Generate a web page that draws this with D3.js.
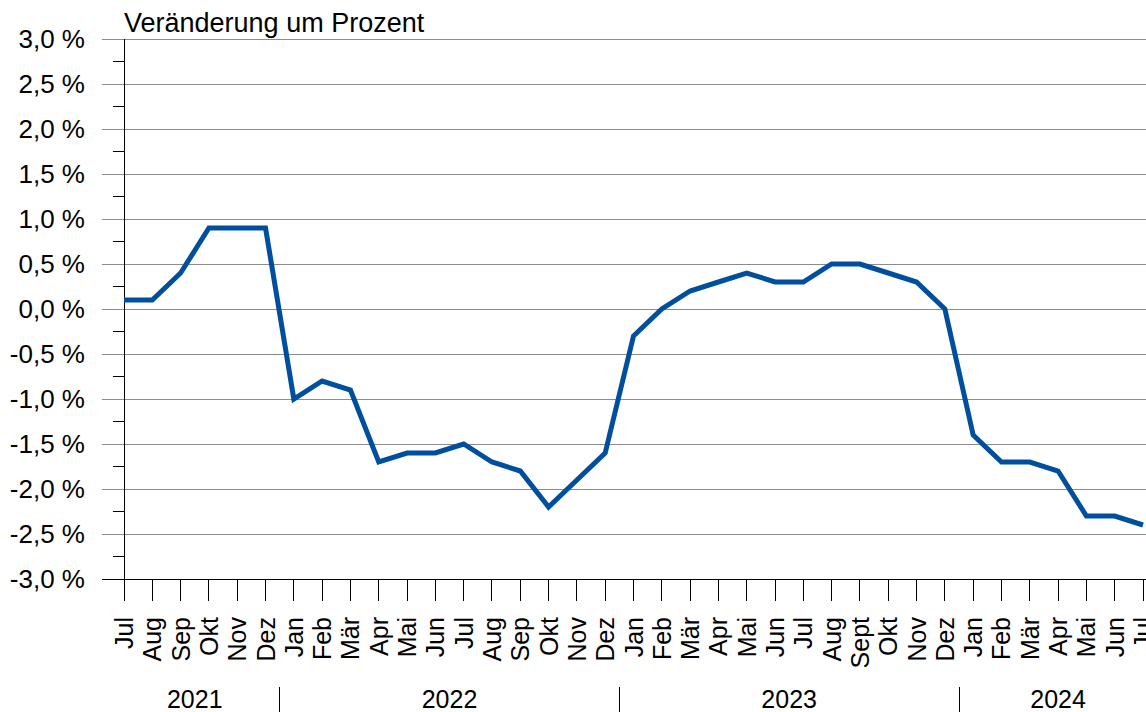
<!DOCTYPE html>
<html>
<head>
<meta charset="utf-8">
<script src="https://cdn.jsdelivr.net/npm/d3@7"></script>
<style>
  body { margin: 0; background: #fff; }
  svg { display: block; font-family: "Liberation Sans", Arial, sans-serif; }
</style>
</head>
<body>
<div id="chart"></div>
<script>
// months Jul 2021 .. Jul 2024
const months = ["Jul","Aug","Sep","Okt","Nov","Dez",
  "Jan","Feb","Mär","Apr","Mai","Jun","Jul","Aug","Sep","Okt","Nov","Dez",
  "Jan","Feb","Mär","Apr","Mai","Jun","Jul","Aug","Sept","Okt","Nov","Dez",
  "Jan","Feb","Mär","Apr","Mai","Jun","Jul"];
const values = [0.1, 0.1, 0.4, 0.9, 0.9, 0.9,
  -1.0, -0.8, -0.9, -1.7, -1.6, -1.6, -1.5, -1.7, -1.8, -2.2, -1.9, -1.6,
  -0.3, 0.0, 0.2, 0.3, 0.4, 0.3, 0.3, 0.5, 0.5, 0.4, 0.3, 0.0,
  -1.4, -1.7, -1.7, -1.8, -2.3, -2.3, -2.4];
const years = ["2021", "2022", "2023", "2024"];
const yearStart = [0, 6, 18, 30];
const yearEnd = [5, 17, 29, 36];
const yTicks = [3, 2.5, 2, 1.5, 1, 0.5, 0, -0.5, -1, -1.5, -2, -2.5, -3];

const width = 1146, height = 712;
const margin = { top: 39, right: 3, bottom: 133, left: 124 };
const innerW = width - margin.left - margin.right;
const innerH = height - margin.top - margin.bottom;

const svg = d3.select("#chart").append("svg")
  .attr("width", width)
  .attr("height", height);

const x = d3.scaleLinear()
  .domain([0, months.length - 1])
  .range([margin.left, margin.left + innerW]);

const y = d3.scaleLinear()
  .domain([-3, 3])
  .range([margin.top + innerH, margin.top]);

const fmt = v => d3.format(".1f")(v).replace(".", ",").replace("−", "-") + " %";

// grid lines (extend left as major ticks)
svg.append("g")
  .selectAll("line")
  .data(yTicks)
  .join("line")
  .attr("x1", margin.left - 22)
  .attr("x2", width)
  .attr("y1", d => y(d))
  .attr("y2", d => y(d))
  .attr("stroke", d => d === -3 ? "#000" : "#8c8c8c")
  .attr("stroke-width", 1)
  .attr("shape-rendering", "crispEdges");

// minor ticks
const minor = d3.range(-2.75, 3, 0.5);
svg.append("g")
  .selectAll("line")
  .data(minor)
  .join("line")
  .attr("x1", margin.left - 11)
  .attr("x2", margin.left)
  .attr("y1", d => y(d))
  .attr("y2", d => y(d))
  .attr("stroke", "#000")
  .attr("shape-rendering", "crispEdges");

// y axis line
svg.append("line")
  .attr("x1", margin.left).attr("x2", margin.left)
  .attr("y1", y(3)).attr("y2", y(-3))
  .attr("stroke", "#000")
  .attr("shape-rendering", "crispEdges");

// y labels
svg.append("g")
  .selectAll("text")
  .data(yTicks)
  .join("text")
  .attr("x", 85)
  .attr("y", d => y(d))
  .attr("dy", "0.36em")
  .attr("text-anchor", "end")
  .attr("font-size", 26)
  .text(fmt);

// title
svg.append("text")
  .attr("x", margin.left)
  .attr("y", 32)
  .attr("font-size", 27)
  .text("Veränderung um Prozent");

// x ticks
svg.append("g")
  .selectAll("line")
  .data(months)
  .join("line")
  .attr("x1", (d, i) => x(i))
  .attr("x2", (d, i) => x(i))
  .attr("y1", y(-3))
  .attr("y2", y(-3) + 22)
  .attr("stroke", "#000")
  .attr("shape-rendering", "crispEdges");

// month labels
svg.append("g")
  .selectAll("text")
  .data(months)
  .join("text")
  .attr("transform", (d, i) => `translate(${x(i)},617) rotate(-90)`)
  .attr("dy", "0.36em")
  .attr("text-anchor", "end")
  .attr("font-size", 25)
  .text(d => d);

// year labels
svg.append("g")
  .selectAll("text")
  .data(years)
  .join("text")
  .attr("x", (d, i) => x((yearStart[i] + yearEnd[i]) / 2))
  .attr("y", 708)
  .attr("text-anchor", "middle")
  .attr("font-size", 25)
  .text(d => d);

// year separators
svg.append("g")
  .selectAll("line")
  .data(yearStart.slice(1))
  .join("line")
  .attr("x1", d => x(d - 0.5))
  .attr("x2", d => x(d - 0.5))
  .attr("y1", 687)
  .attr("y2", height)
  .attr("stroke", "#000")
  .attr("shape-rendering", "crispEdges");

// line
const line = d3.line()
  .x((d, i) => x(i))
  .y(d => y(d));

svg.append("path")
  .datum(values)
  .attr("d", line)
  .attr("fill", "none")
  .attr("stroke", "#004f9f")
  .attr("stroke-width", 5)
  .attr("stroke-linejoin", "miter");
</script>
</body>
</html>
